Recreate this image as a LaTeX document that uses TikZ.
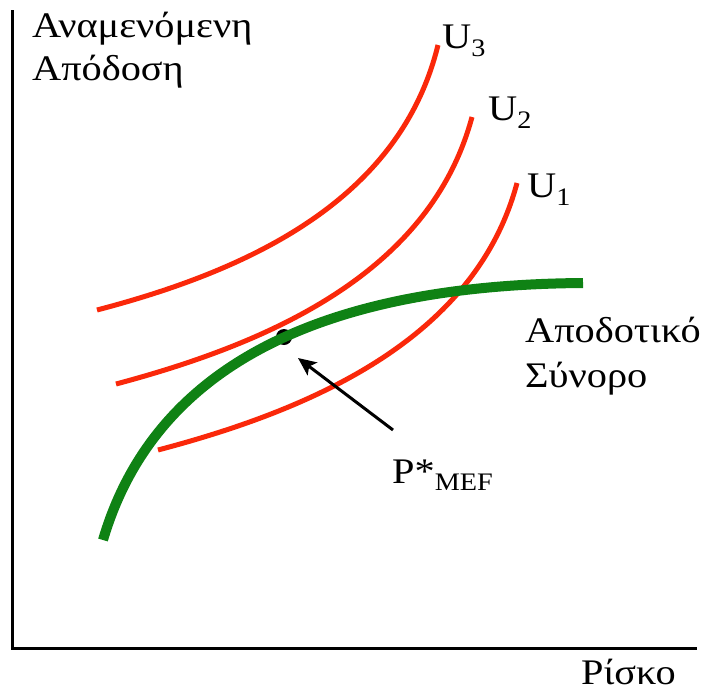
\documentclass[tikz,border=0pt]{standalone}
\usepackage{fontspec}
\setmainfont{Liberation Serif}[FakeStretch=1.12]
\usetikzlibrary{arrows.meta}
\definecolor{ured}{RGB}{250,40,10}
\definecolor{fgreen}{RGB}{15,130,20}
\tikzset{
  ucurve/.style={draw=ured, line width=5pt},
  frontier/.style={draw=fgreen, line width=10pt},
  axis/.style={draw=black, line width=3pt},
  lbl/.style={font=\fontsize{36}{42}\selectfont, inner sep=0pt},
}
\begin{document}
\begin{tikzpicture}[x=1pt,y=-1pt]
\useasboundingbox (0,0) rectangle (704,691);
% axes
\coordinate (o) at (12,648);
\coordinate (ytop) at (12,10);
\coordinate (xend) at (697,648);
\draw[axis] (ytop) -- (o) -- (xend);
% point
\node[circle, fill=black, minimum size=16pt, inner sep=0pt] (P) at (284,337) {};
% utility curves
\draw[ucurve] (97,310) .. controls (250,270) and (400,200) .. (438,45);
\draw[ucurve] (116,384) .. controls (270,343) and (430,273) .. (472,117);
\draw[ucurve] (158,450) .. controls (310,410) and (475,340) .. (517,183);
% efficient frontier
\draw[frontier] (103,540) .. controls (150,380) and (300,285) .. (583,283);
% labels
\node[lbl, anchor=base west] (yl1) at (32,37) {Αναμενόμενη};
\node[lbl, anchor=base west] (yl2) at (32,80) {Απόδοση};
\node[lbl, anchor=base west] (xl) at (581,684) {Ρίσκο};
\node[lbl, anchor=base west] (u3) at (442,48) {U\textsubscript{3}};
\node[lbl, anchor=base west] (u2) at (488,120) {U\textsubscript{2}};
\node[lbl, anchor=base west] (u1) at (527,197) {U\textsubscript{1}};
\node[lbl, anchor=base west] (f1) at (525,342) {Αποδοτικό};
\node[lbl, anchor=base west] (f2) at (525,387) {Σύνορο};
\node[lbl, anchor=base west] (pl) at (392,483) {P*\textsubscript{MEF}};
% arrow
\coordinate (atail) at (393,430);
\coordinate (ahead) at (298,358);
\draw[line width=3pt, -{Stealth[length=18pt,width=16pt,inset=4pt]}] (atail) -- (ahead);
\end{tikzpicture}
\end{document}
